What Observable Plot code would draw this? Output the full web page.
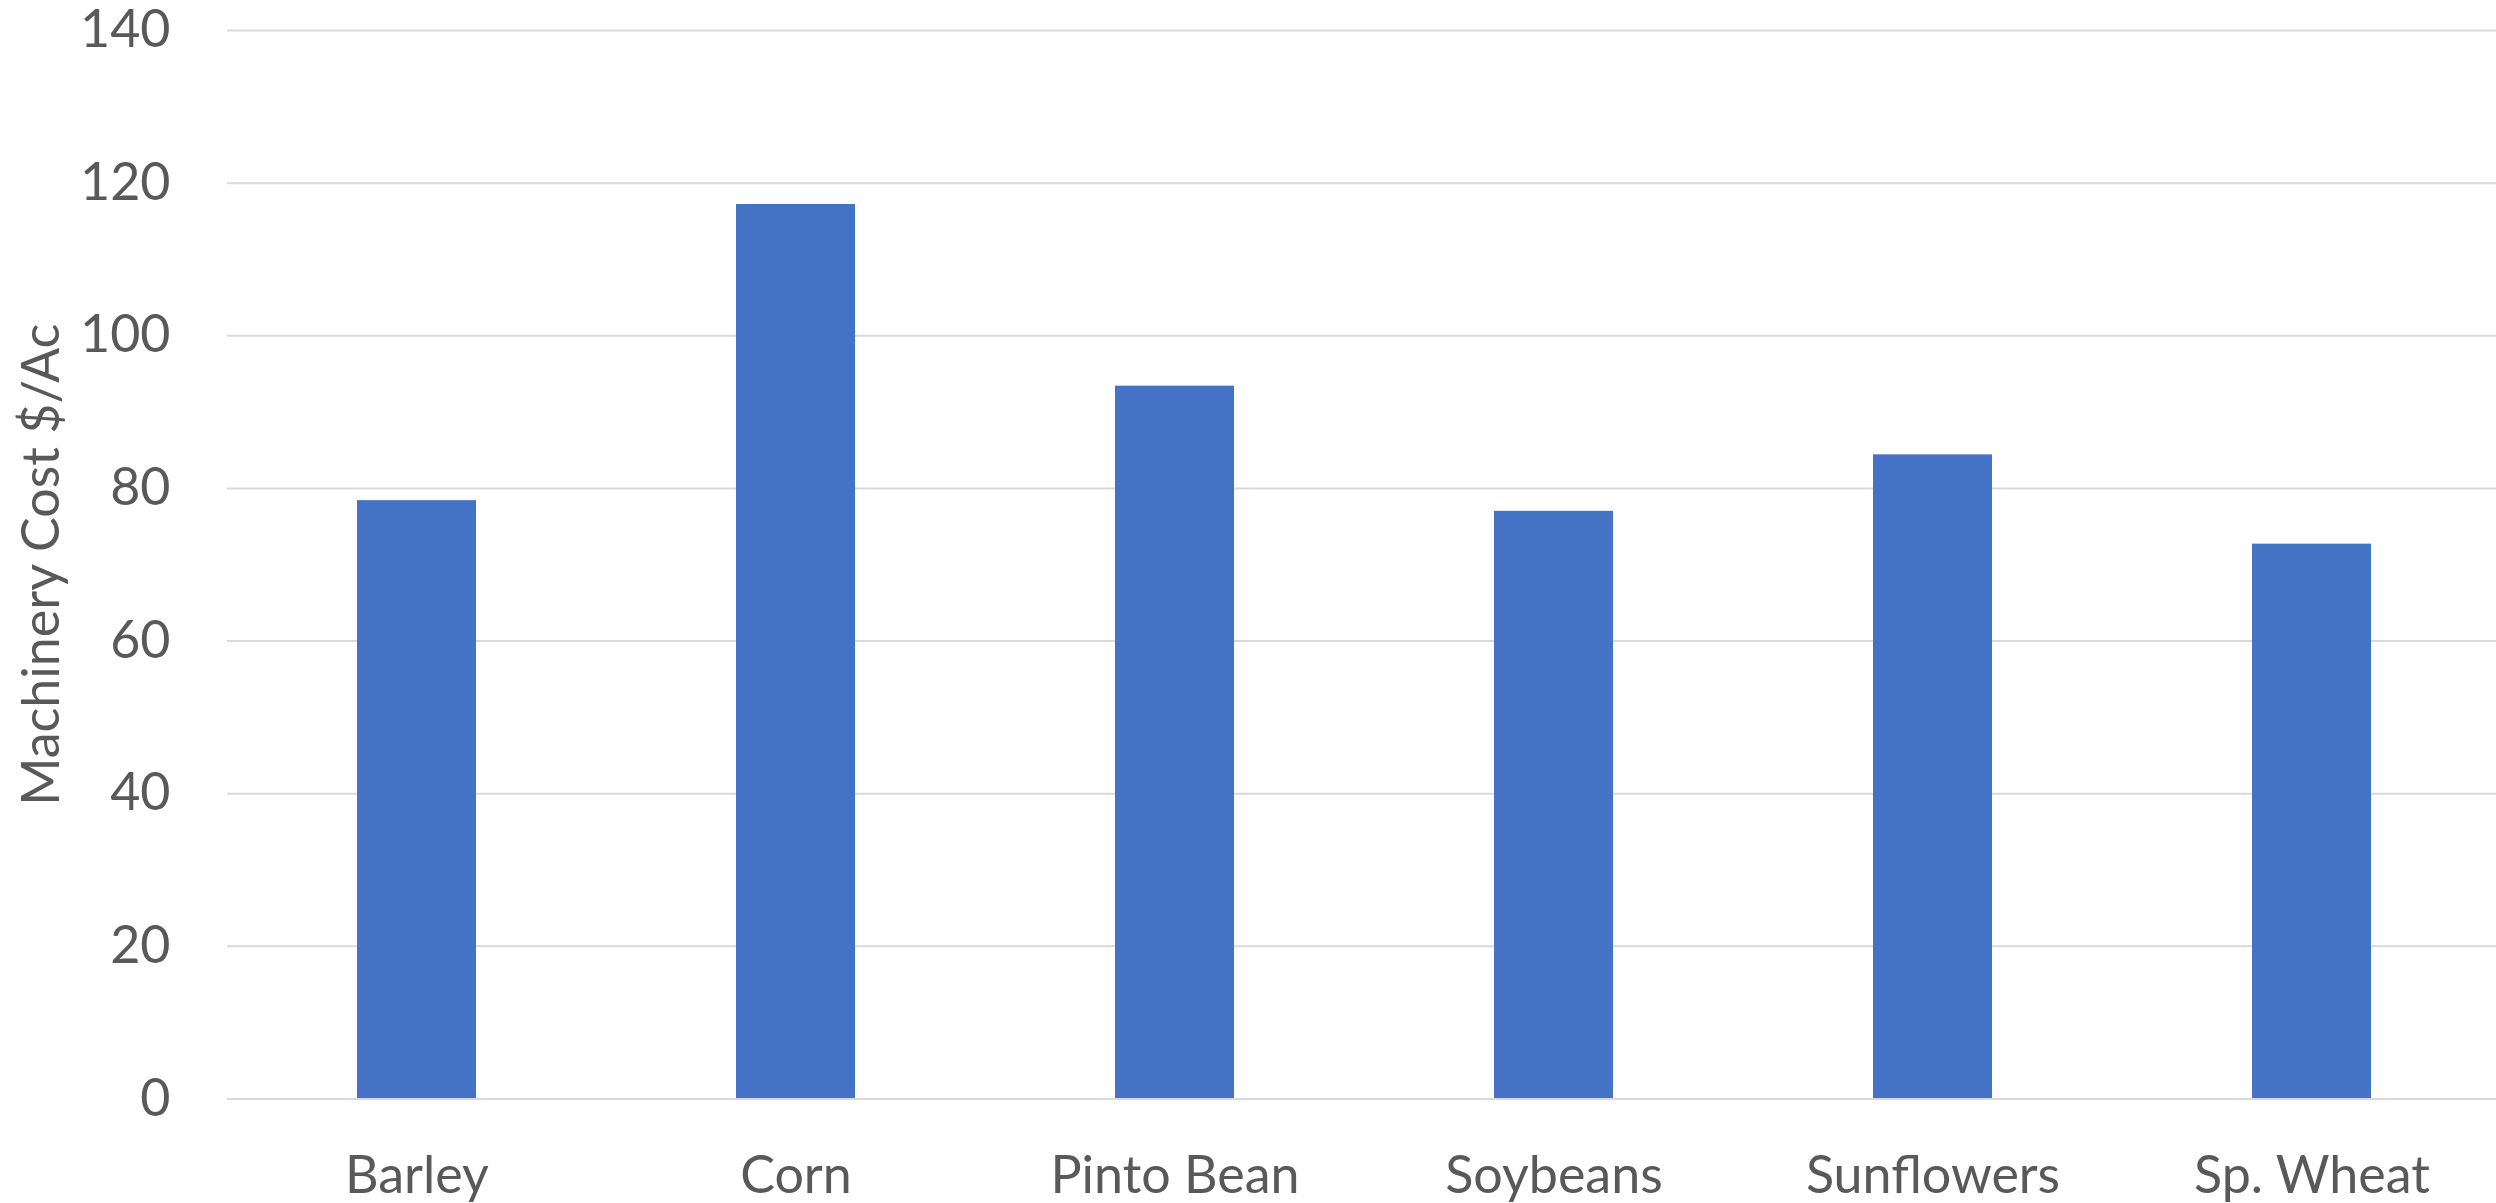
<!DOCTYPE html>
<html>
<head>
<meta charset="utf-8">
<script src="https://cdn.jsdelivr.net/npm/d3@7"></script>
<script src="https://cdn.jsdelivr.net/npm/@observablehq/plot@0.6"></script>
<style>
  html, body { margin: 0; padding: 0; background: #ffffff; overflow: hidden; }
  #chart svg { display: block; }
</style>
</head>
<body>
<div id="chart"></div>
<script>
const crops = ["Barley", "Corn", "Pinto Bean", "Soybeans", "Sunflowers", "Sp. Wheat"];
const costs = [78.4, 117.2, 93.4, 77.0, 84.4, 72.7];
const yTicks = [0, 20, 40, 60, 80, 100, 120, 140];
const yTitle = "Machinery Cost $/Ac";

const data = crops.map((crop, i) => ({crop, cost: costs[i]}));

const chart = Plot.plot({
  width: 2496,
  height: 1203,
  marginTop: 30,
  marginBottom: 104.5,
  marginLeft: 227,
  marginRight: 0,
  style: {fontFamily: "Lato, 'Open Sans', sans-serif", fontSize: "52px", color: "#595959", background: "#ffffff"},
  x: {domain: crops, range: [226.7, 2500.7], paddingInner: 0.686, paddingOuter: 0.343, label: null},
  y: {domain: [0, 140], label: yTitle},
  marks: [
    Plot.gridY(yTicks, {stroke: "#d9d9d9", strokeOpacity: 1, strokeWidth: 2}),
    Plot.barY(data, {x: "crop", y: "cost", fill: "#4472C4"}),
    Plot.ruleY([0], {stroke: "#d9d9d9", strokeWidth: 2}),
    Plot.axisX({tickSize: 0, tickPadding: 57, label: null}),
    Plot.axisY(yTicks, {tickSize: 0, tickPadding: 57, label: yTitle, labelAnchor: "center", labelArrow: "none", labelOffset: 205})
  ]
});
document.getElementById("chart").appendChild(chart);
</script>
</body>
</html>
